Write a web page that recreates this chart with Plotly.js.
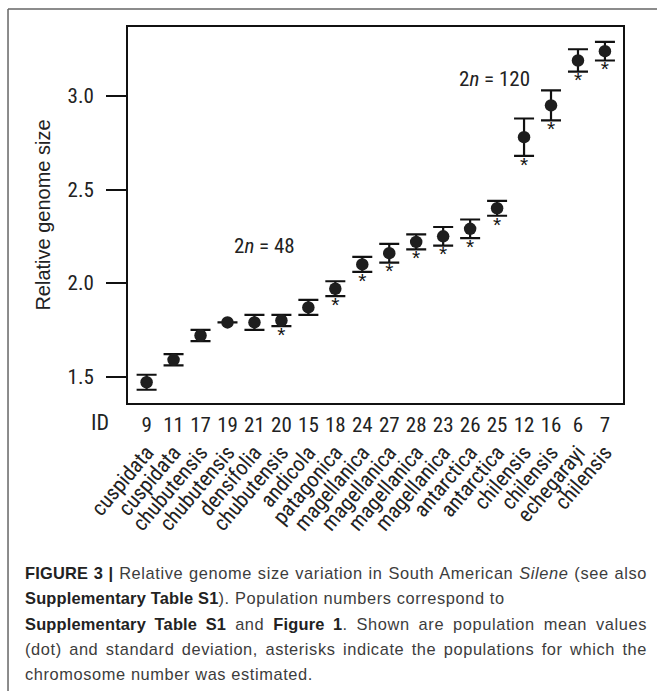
<!DOCTYPE html>
<html>
<head>
<meta charset="utf-8">
<script src="https://cdn.plot.ly/plotly-3.0.1.min.js"></script>
<style>
html,body{margin:0;padding:0;background:#fff;}
#wrap{position:relative;width:657px;height:691px;overflow:hidden;}
#chart{position:absolute;left:0;top:0;width:657px;height:691px;}
#caption{position:absolute;left:25px;top:561px;font-family:"Liberation Sans",Arial,sans-serif;font-size:16.4px;letter-spacing:0.6px;line-height:25.3px;color:#3c3c3c;white-space:nowrap;}
#caption div{height:25.3px;}
#caption .j{text-align:justify;text-align-last:justify;white-space:normal;width:622px;}
#caption b{color:#222;letter-spacing:0.2px;}
</style>
</head>
<body>
<div id="wrap">
<div id="chart"></div>
<div id="caption">
<div class="j"><b>FIGURE 3 |</b> Relative genome size variation in South American <i>Silene</i> (see also</div>
<div><b>Supplementary Table S1</b>). Population numbers correspond to</div>
<div class="j"><b>Supplementary Table S1</b> and <b>Figure 1</b>. Shown are population mean values</div>
<div class="j">(dot) and standard deviation, asterisks indicate the populations for which the</div>
<div>chromosome number was estimated.</div>
</div>
</div>
<script>
const ids = ['9','11','17','19','21','20','15','18','24','27','28','23','26','25','12','16','6','7'];
const species = ['cuspidata','cuspidata','chubutensis','chubutensis','densifolia','chubutensis','andicola','patagonica','magellanica','magellanica','magellanica','magellanica','antarctica','antarctica','chilensis','chilensis','echegarayi','chilensis'];
const meanSize = [1.47,1.59,1.72,1.79,1.79,1.80,1.87,1.97,2.10,2.16,2.22,2.25,2.29,2.40,2.78,2.95,3.19,3.24];
const sdSize = [0.04,0.03,0.03,null,0.04,0.03,0.04,0.04,0.04,0.05,0.04,0.05,0.05,0.04,0.10,0.08,0.06,0.05];
const chromEstimated = [0,0,0,0,0,1,0,1,1,1,1,1,1,1,1,1,1,1];
const yTicks = [1.5,2.0,2.5,3.0];

const narrow = '"Roboto Condensed", "Liberation Sans Narrow", "Arial Narrow", sans-serif';
const idx = ids.map((_, i) => i);

const mainTrace = {
  type: 'scatter', mode: 'markers',
  x: idx, y: meanSize,
  marker: {size: 12.5, color: '#1e1e1e'},
  error_y: {type: 'data', array: sdSize, symmetric: true, color: '#111', thickness: 2.2, width: 10},
  hoverinfo: 'skip', showlegend: false
};
const starTrace = {
  type: 'scatter', mode: 'text',
  x: idx,
  y: meanSize.map((m, i) => m - (sdSize[i] || 0)),
  text: chromEstimated.map(f => f ? '*' : ''),
  textposition: 'bottom center',
  textfont: {family: 'Liberation Sans, Arial, sans-serif', size: 21, color: '#111'},
  hoverinfo: 'skip', showlegend: false, cliponaxis: false
};
const labelTrace = {
  type: 'scatter', mode: 'markers', x: idx, y: meanSize, xaxis: 'x2',
  marker: {size: 1, opacity: 0}, hoverinfo: 'skip', showlegend: false
};

const layout = {
  width: 657, height: 691,
  margin: {l: 128, r: 34, t: 27, b: 0, pad: 0},
  paper_bgcolor: 'rgba(0,0,0,0)', plot_bgcolor: '#fff',
  showlegend: false,
  font: {family: narrow, color: '#1a1a1a'},
  xaxis: {
    type: 'linear', range: [-0.69, 17.67],
    tickmode: 'array', tickvals: idx, ticktext: ids,
    ticks: '', showgrid: false, zeroline: false,
    showline: true, linecolor: '#111', linewidth: 2, mirror: true,
    tickfont: {family: narrow, size: 21, color: '#222'},
    ticklabelstandoff: 2
  },
  xaxis2: {
    type: 'linear', range: [-0.69, 17.67], overlaying: 'x', anchor: 'free', side: 'bottom',
    position: 0.386,
    tickmode: 'array', tickvals: idx, ticktext: species, tickangle: -50,
    ticks: '', showgrid: false, zeroline: false, showline: false,
    tickfont: {family: narrow, size: 21.5, color: '#222'}
  },
  yaxis: {
    domain: [0.4337, 1], range: [1.359, 3.369],
    tickmode: 'array', tickvals: yTicks, tickformat: '.1f',
    ticks: 'outside', ticklen: 20, tickwidth: 2, tickcolor: '#111',
    showgrid: false, zeroline: false,
    showline: true, linecolor: '#111', linewidth: 2, mirror: true,
    tickfont: {family: narrow, size: 21, color: '#222'},
    ticklabelstandoff: 8,
    title: {text: 'Relative genome size', font: {family: 'Liberation Sans, Arial, sans-serif', size: 20, color: '#222'}, standoff: 12}
  },
  annotations: [
    {xref: 'x', yref: 'y', x: 4.39, y: 2.20, text: '2<i>n</i> = 48', showarrow: false,
     font: {family: narrow, size: 21, color: '#222'}},
    {xref: 'x', yref: 'y', x: 12.92, y: 3.09, text: '2<i>n</i> = 120', showarrow: false,
     font: {family: narrow, size: 21, color: '#222'}},
    {xref: 'paper', yref: 'paper', x: -0.0566, y: (691 - 422) / 664, text: 'ID', showarrow: false,
     xanchor: 'center', yanchor: 'middle', font: {family: narrow, size: 22, color: '#222'}}
  ],
  shapes: [
    {type: 'line', xref: 'paper', yref: 'paper', x0: -0.2424, x1: -0.2424, y0: 1.0271, y1: -0.01,
     line: {color: '#666', width: 1.5}},
    {type: 'line', xref: 'paper', yref: 'paper', x0: -0.2424, x1: 1.1, y0: 1.0271, y1: 1.0271,
     line: {color: '#666', width: 1.5}}
  ]
};

Plotly.newPlot('chart', [mainTrace, starTrace, labelTrace], layout, {displayModeBar: false, staticPlot: true});
</script>
</body>
</html>
